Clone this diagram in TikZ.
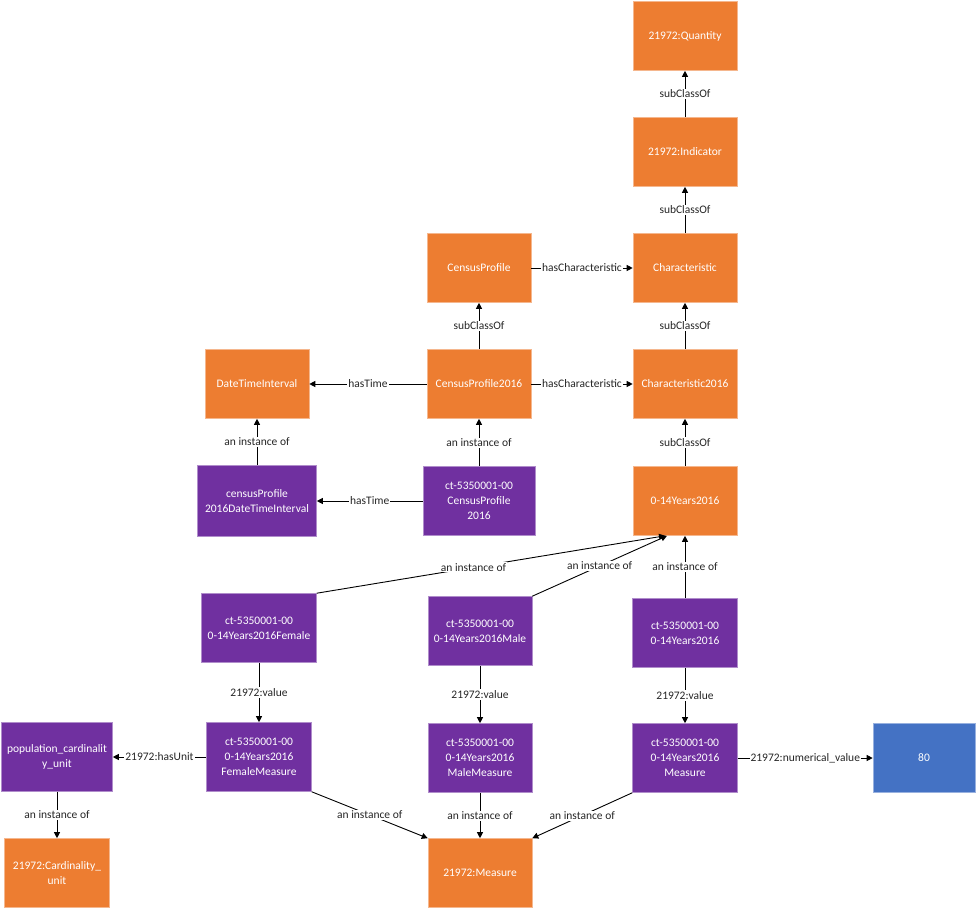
\documentclass[tikz,border=0pt]{standalone}
\usepackage{fontspec}
\setmainfont{Carlito}
\usetikzlibrary{arrows.meta, positioning}

\definecolor{classorange}{HTML}{ED7D31}
\definecolor{instpurple}{HTML}{7030A0}
\definecolor{valueblue}{HTML}{4472C4}

\tikzset{
    classbox/.style={draw=classorange!55!white, fill=classorange, text=white, line width=0.6pt,
        minimum width=104pt, minimum height=69pt, align=center, font=\fontsize{11.5}{15}\selectfont},
    instbox/.style={classbox, draw=instpurple!55!white, fill=instpurple},
    valuebox/.style={classbox, draw=valueblue!55!white, fill=valueblue},
    arr/.style={-{Triangle[length=6pt,width=6pt]}, line width=0.9pt},
    lbl/.style={fill=white, inner sep=1pt, text=black!85, font=\fontsize{11.5}{14}\selectfont},
}

\begin{document}
\begin{tikzpicture}[x=1pt, y=-1pt]
    \useasboundingbox (0, 0) rectangle (978, 910);

    % classes
    \node[classbox] (quantity) at (685, 36) {21972:Quantity};
    \node[classbox] (indicator) at (685, 152) {21972:Indicator};
    \node[classbox] (characteristic) at (685, 268) {Characteristic};
    \node[classbox] (char2016) at (685, 384) {Characteristic2016};
    \node[classbox] (years2016) at (685, 501) {0-14Years2016};
    \node[classbox] (censusprofile) at (479, 268) {CensusProfile};
    \node[classbox] (census2016) at (479, 384) {CensusProfile2016};
    \node[classbox] (datetime) at (257, 384) {DateTimeInterval};
    \node[classbox] (measure) at (480, 873) {21972:Measure};
    \node[classbox, minimum width=105pt] (cardunit) at (57, 873) {21972:Cardinality\_\\unit};

    % instances
    \node[instbox, minimum width=119pt, minimum height=71pt] (cpdatetime) at (257, 501) {censusProfile\\2016DateTimeInterval};
    \node[instbox, minimum width=112pt] (ctcensus) at (479, 501) {ct-5350001-00\\CensusProfile\\2016};
    \node[instbox, minimum width=115pt] (ctfemale) at (259, 628) {ct-5350001-00\\0-14Years2016Female};
    \node[instbox] (ctmale) at (480, 631) {ct-5350001-00\\0-14Years2016Male};
    \node[instbox, minimum width=105pt] (ctyears) at (685, 633) {ct-5350001-00\\0-14Years2016};
    \node[instbox, minimum width=105pt] (femalemeasure) at (259, 757) {ct-5350001-00\\0-14Years2016\\FemaleMeasure};
    \node[instbox] (malemeasure) at (480, 758) {ct-5350001-00\\0-14Years2016\\MaleMeasure};
    \node[instbox, minimum width=105pt] (ctmeasure) at (685, 758) {ct-5350001-00\\0-14Years2016\\Measure};
    \node[instbox, minimum width=111pt] (popunit) at (57, 757) {population\_cardinalit\\y\_unit};
    \node[valuebox, minimum width=102pt] (eighty) at (924, 758) {80};

    % subclass chain
    \draw[arr] (indicator.north) -- node[lbl] {subClassOf} (quantity.south);
    \draw[arr] (characteristic.north) -- node[lbl] {subClassOf} (indicator.south);
    \draw[arr] (char2016.north) -- node[lbl] {subClassOf} (characteristic.south);
    \draw[arr] (years2016.north) -- node[lbl] {subClassOf} (char2016.south);
    \draw[arr] (census2016.north) -- node[lbl] {subClassOf} (censusprofile.south);

    \draw[arr] (censusprofile.east) -- node[lbl] {hasCharacteristic} (characteristic.west);
    \draw[arr] (census2016.east) -- node[lbl] {hasCharacteristic} (char2016.west);
    \draw[arr] (census2016.west) -- node[lbl] {hasTime} (datetime.east);
    \draw[arr] (ctcensus.west) -- node[lbl] {hasTime} (cpdatetime.east);

    % instance of
    \draw[arr] (cpdatetime.north) -- node[lbl] {an instance of} (datetime.south);
    \draw[arr] (ctcensus.north) -- node[lbl] {an instance of} (census2016.south);
    \draw[arr] (ctfemale.north east) -- node[lbl, pos=0.45] {an instance of} ([xshift=-20pt]years2016.south);
    \draw[arr] (ctmale.north east) -- node[lbl] {an instance of} ([xshift=-18pt]years2016.south);
    \draw[arr] (ctyears.north) -- node[lbl] {an instance of} (years2016.south);
    \draw[arr] (popunit.south) -- node[lbl] {an instance of} (cardunit.north);
    \draw[arr] (femalemeasure.south east) -- node[lbl] {an instance of} (measure.north west);
    \draw[arr] (malemeasure.south) -- node[lbl] {an instance of} (measure.north);
    \draw[arr] (ctmeasure.south west) -- node[lbl] {an instance of} (measure.north east);

    % values
    \draw[arr] (ctfemale.south) -- node[lbl] {21972:value} (femalemeasure.north);
    \draw[arr] (ctmale.south) -- node[lbl] {21972:value} (malemeasure.north);
    \draw[arr] (ctyears.south) -- node[lbl] {21972:value} (ctmeasure.north);
    \draw[arr] (femalemeasure.west) -- node[lbl] {21972:hasUnit} (popunit.east);
    \draw[arr] (ctmeasure.east) -- node[lbl] {21972:numerical\_value} (eighty.west);
\end{tikzpicture}
\end{document}
